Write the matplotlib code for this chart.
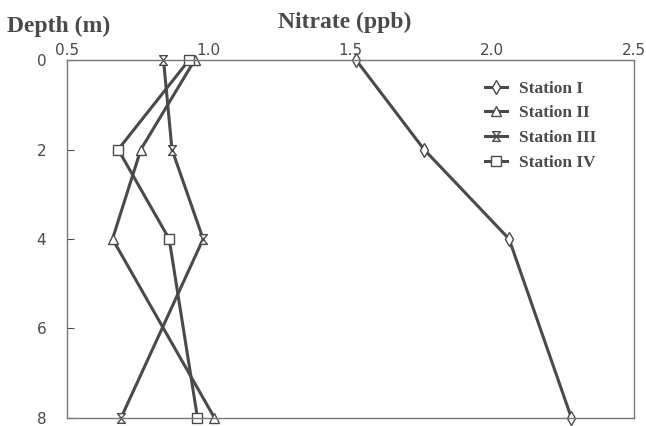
import matplotlib
matplotlib.use("Agg")
import matplotlib.pyplot as plt
from matplotlib.lines import Line2D
from matplotlib.path import Path

# depth (m) and nitrate (ppb) for each station
depth = [0, 2, 4, 8]
station_1 = [1.52, 1.76, 2.06, 2.28]
station_2 = [0.95, 0.76, 0.66, 1.02]
station_3 = [0.84, 0.87, 0.98, 0.69]
station_4 = [0.93, 0.68, 0.86, 0.96]
labels = ["Station I", "Station II", "Station III", "Station IV"]

x_ticks = [0.5, 1.0, 1.5, 2.0, 2.5]
y_ticks = [0, 2, 4, 6, 8]

col = "#4a4a4a"
serif = "Liberation Serif"
sans = "DejaVu Sans"

# hourglass marker for station III
hourglass = Path([(-0.8, 1), (0.8, 1), (-0.8, -1), (0.8, -1), (-0.8, 1)],
                 [Path.MOVETO, Path.LINETO, Path.LINETO, Path.LINETO, Path.CLOSEPOLY])

fig = plt.figure(figsize=(6.46, 4.26), dpi=100)
ax = fig.add_axes([0.104, 0.019, 0.877, 0.840])

mk = dict(color=col, lw=2.2, markersize=7, markerfacecolor="white",
          markeredgecolor=col, markeredgewidth=1.0, clip_on=False)

markers = ["d", "^", hourglass, "s"]
series = [station_1, station_2, station_3, station_4]
for vals, m in zip(series, markers):
    ax.plot(vals, depth, marker=m, **mk)

ax.set_xlim(0.5, 2.5)
ax.set_ylim(8, 0)
ax.xaxis.tick_top()
ax.set_xticks(x_ticks)
ax.set_xticklabels(["0.5", "1.0", "1.5", "2.0", "2.5"], fontfamily=sans, fontsize=11, color=col)
ax.set_yticks(y_ticks)
ax.set_yticklabels([str(v) for v in y_ticks], fontfamily=sans, fontsize=11, color=col)
ax.tick_params(axis="x", length=0, pad=1.5)
ax.tick_params(axis="y", direction="in", length=5, color=col, pad=15)
for s in ax.spines.values():
    s.set_color("#777777")
    s.set_linewidth(1.0)

fig.text(0.011, 0.925, "Depth (m)", fontfamily=serif, fontweight="bold", fontsize=17,
         color=col, va="baseline")
fig.text(0.534, 0.934, "Nitrate (ppb)", fontfamily=serif, fontweight="bold", fontsize=17,
         color=col, ha="center", va="baseline")

handles = [Line2D([], [], color=col, lw=2.2, marker=m, markersize=7, markerfacecolor="white",
                  markeredgecolor=col) for m in markers]
leg = ax.legend(handles, labels, loc="upper left", bbox_to_anchor=(0.737, 0.943), frameon=False,
                borderaxespad=0, borderpad=0,
                prop={"family": serif, "weight": "bold", "size": 12.5}, handlelength=1.3,
                handletextpad=0.7, labelspacing=0.49)
for t in leg.get_texts():
    t.set_color(col)

fig.savefig("out.png", dpi=100)
